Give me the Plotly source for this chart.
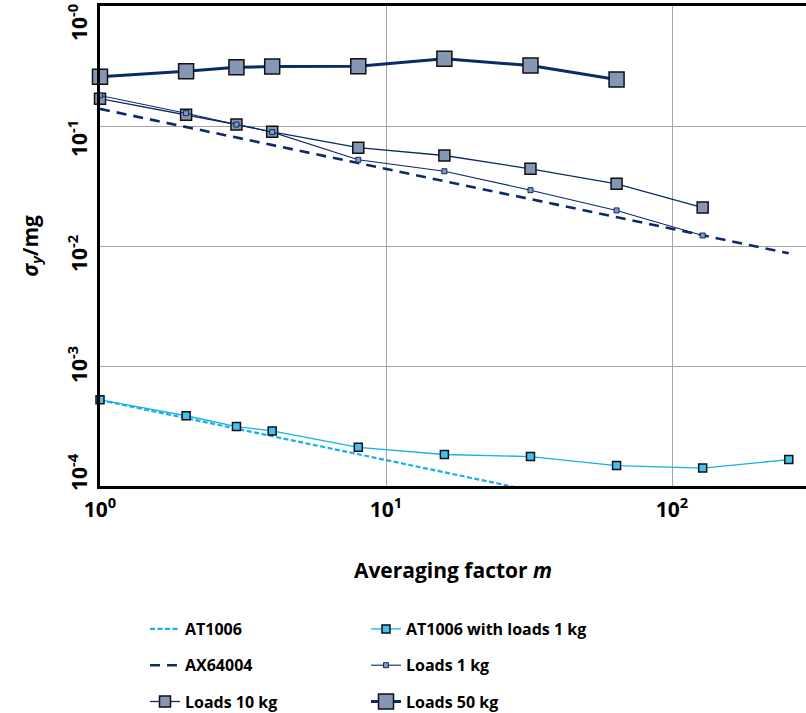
import plotly.graph_objects as go

# ---- data ----
m_pts = [1, 2, 3, 4, 8, 16, 32, 64, 128, 256]

at1006_m = [1, 2, 4, 8, 16, 32]
at1006_sigma = [5.2e-4, 3.68e-4, 2.6e-4, 1.84e-4, 1.3e-4, 0.92e-4]

ax64004_m = [1, 2, 4, 8, 16, 32, 64, 128, 256]
ax64004_sigma = [0.139, 0.098, 0.0695, 0.049, 0.0347, 0.0246, 0.0174, 0.0123, 0.0087]

at_loads1_sigma = [5.23e-4, 3.85e-4, 3.13e-4, 2.88e-4, 2.1e-4, 1.83e-4, 1.76e-4, 1.48e-4, 1.41e-4, 1.66e-4]
loads1_sigma = [0.18, 0.128, 0.103, 0.089, 0.0523, 0.042, 0.0292, 0.0198, 0.01224]
loads10_sigma = [0.169, 0.124, 0.103, 0.0895, 0.066, 0.0568, 0.044, 0.033, 0.0209]
loads50_sigma = [0.257, 0.286, 0.309, 0.313, 0.315, 0.363, 0.319, 0.244]

x_tickvals = [1, 10, 100]
x_ticktext = ["<b>10<sup>0</sup></b>", "<b>10<sup>1</sup></b>", "<b>10<sup>2</sup></b>"]
y_tickvals = [1, 0.1, 0.01, 0.001, 0.0001]
y_ticktext = ["<b>10<sup>-0</sup></b>", "<b>10<sup>-1</sup></b>", "<b>10<sup>-2</sup></b>",
              "<b>10<sup>-3</sup></b>", "<b>10<sup>-4</sup></b>"]
# label offsets (px) as laid out in the original
y_label_shift = [-16, -12, -7, 2, 14]

NAVY = "#0B2A68"
LIGHT = "#16B0EC"
FILL = "#8597B5"
FONT = "Open Sans"

fig = go.Figure()

fig.add_trace(go.Scatter(
    x=at1006_m, y=at1006_sigma, mode="lines", name="<b>AT1006</b>",
    line=dict(color=LIGHT, width=2.2, dash="5px,2.5px"),
    legend="legend", legendgroup="a", cliponaxis=True))
fig.add_trace(go.Scatter(
    x=ax64004_m, y=ax64004_sigma, mode="lines", name="<b>AX64004</b>",
    line=dict(color=NAVY, width=2.6, dash="10px,7px"),
    legend="legend", legendgroup="b", cliponaxis=True))
fig.add_trace(go.Scatter(
    x=m_pts[:len(loads10_sigma)], y=loads10_sigma, mode="lines+markers", name="<b>Loads 10 kg</b>",
    line=dict(color=NAVY, width=1.3),
    marker=dict(symbol="square", size=11, color=FILL, line=dict(color="#111111", width=1.5)),
    legend="legend", legendgroup="c", cliponaxis=False))

fig.add_trace(go.Scatter(
    x=m_pts[:len(at_loads1_sigma)], y=at_loads1_sigma, mode="lines+markers",
    name="<b>AT1006 with loads 1 kg</b>",
    line=dict(color=LIGHT, width=1.3),
    marker=dict(symbol="square", size=8, color="#45C1F0", line=dict(color="#111111", width=1.5)),
    legend="legend2", legendgroup="d", cliponaxis=False))
fig.add_trace(go.Scatter(
    x=m_pts[:len(loads1_sigma)], y=loads1_sigma, mode="lines+markers", name="<b>Loads 1 kg</b>",
    line=dict(color=NAVY, width=1.1),
    marker=dict(symbol="square", size=5, color=FILL, line=dict(color=NAVY, width=1)),
    legend="legend2", legendgroup="e", cliponaxis=False))
fig.add_trace(go.Scatter(
    x=m_pts[:len(loads50_sigma)], y=loads50_sigma, mode="lines+markers", name="<b>Loads 50 kg</b>",
    line=dict(color=NAVY, width=3),
    marker=dict(symbol="square", size=15, color=FILL, line=dict(color="#111111", width=1.5)),
    legend="legend2", legendgroup="f", cliponaxis=False))

legend_common = dict(
    font=dict(family=FONT, size=16, color="black"),
    bgcolor="rgba(0,0,0,0)", tracegroupgap=12.5, yanchor="top", xanchor="left",
    orientation="v", itemwidth=30, yref="container", xref="container")

annotations = [dict(
    text="<b><i>σ</i><sub><i>y</i></sub>/mg</b>", textangle=-90,
    xref="paper", yref="paper", x=-0.098, y=0.5,
    xanchor="center", yanchor="middle", showarrow=False,
    font=dict(family=FONT, size=21, color="black"))]
for val, txt, sh in zip(y_tickvals, y_ticktext, y_label_shift):
    annotations.append(dict(
        text=txt, textangle=-90, xref="paper", yref="y",
        x=-0.0326, y=__import__("math").log10(val), yshift=sh,
        xanchor="center", yanchor="middle", showarrow=False,
        font=dict(family=FONT, size=21, color="black")))

fig.update_layout(
    width=806, height=713,
    margin=dict(l=100, r=0, t=6, b=227, autoexpand=False),
    paper_bgcolor="white", plot_bgcolor="white",
    font=dict(family=FONT, color="black"),
    showlegend=True,
    legend=dict(x=145 / 806, y=1 - 612 / 713, **legend_common),
    legend2=dict(x=366 / 806, y=1 - 612 / 713, **legend_common),
    xaxis=dict(
        type="log", range=[0, 2.4685],
        tickvals=x_tickvals, ticktext=x_ticktext,
        tickfont=dict(family=FONT, size=21, color="black"),
        ticks="outside", ticklen=3, tickcolor="rgba(0,0,0,0)",
        ticklabeloverflow="allow",
        showgrid=True, gridcolor="#A6A6A6", gridwidth=1.2,
        showline=True, linecolor="black", linewidth=3, mirror=True,
        zeroline=False,
        title=dict(text="<b>Averaging factor <i>m</i></b>",
                   font=dict(family=FONT, size=21, color="black"),
                   standoff=42),
    ),
    yaxis=dict(
        type="log", range=[-4, 0.0005],
        tickvals=y_tickvals, showticklabels=False, ticks="",
        showgrid=True, gridcolor="#A6A6A6", gridwidth=1.2,
        showline=True, linecolor="black", linewidth=3, mirror=False,
        zeroline=False,
    ),
    annotations=annotations,
)

fig.write_html("out.html")
